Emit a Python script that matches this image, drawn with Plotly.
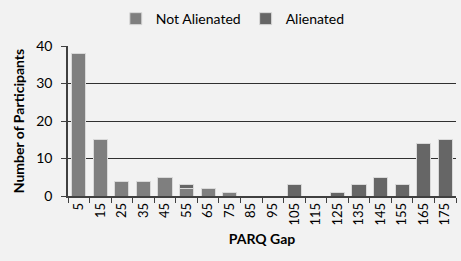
import plotly.graph_objects as go

categories = ["5", "15", "25", "35", "45", "55", "65", "75", "85", "95",
              "105", "115", "125", "135", "145", "155", "165", "175"]
not_alienated = [38, 15, 4, 4, 5, 2, 2, 1, 0, 0, 0, 0, 0, 0, 0, 0, 0, 0]
alienated = [0, 0, 0, 0, 0, 1, 0, 0, 0, 0, 3, 0, 1, 3, 5, 3, 14, 15]

font_family = "Lato, Open Sans, sans-serif"

fig = go.Figure()
fig.add_trace(go.Bar(x=categories, y=not_alienated, name="Not Alienated",
                     marker=dict(color="#7f7f7f", line=dict(color="#d9d9d9", width=1))))
fig.add_trace(go.Bar(x=categories, y=alienated, name="Alienated",
                     marker=dict(color="#666666", line=dict(color="#d9d9d9", width=1))))

fig.update_layout(
    barmode="stack",
    bargap=0.35,
    width=461, height=261,
    margin=dict(l=68, r=5, t=46, b=65),
    paper_bgcolor="#f2f2f2",
    plot_bgcolor="#f2f2f2",
    font=dict(family=font_family, size=13, color="#000000"),
    legend=dict(orientation="h", x=0.505, xanchor="center", xref="container",
                y=0.927, yanchor="middle", yref="container",
                font=dict(size=14), traceorder="normal",
                itemwidth=30, bgcolor="rgba(0,0,0,0)"),
    xaxis=dict(
        type="category",
        tickangle=-90,
        tickson="boundaries",
        ticks="outside", ticklen=5, tickcolor="#404040",
        showline=True, linecolor="#404040", linewidth=1.5,
        automargin=False,
        title=dict(text="<b>PARQ Gap</b>", font=dict(size=14), standoff=10),
        tickfont=dict(size=13),
    ),
    yaxis=dict(
        range=[0, 40],
        dtick=10,
        ticks="outside", ticklen=5, tickcolor="#404040",
        showline=True, linecolor="#404040", linewidth=1.5,
        showgrid=True, gridcolor="#303030", gridwidth=1,
        zeroline=False,
        automargin=False,
        ticklabelstandoff=6,
        title=dict(text="<b>Number of Participants</b>", font=dict(size=14), standoff=8),
        tickfont=dict(size=14),
    ),
)

fig.write_html("out.html", config={"displayModeBar": False},
               post_script="document.body.style.margin='0';")
